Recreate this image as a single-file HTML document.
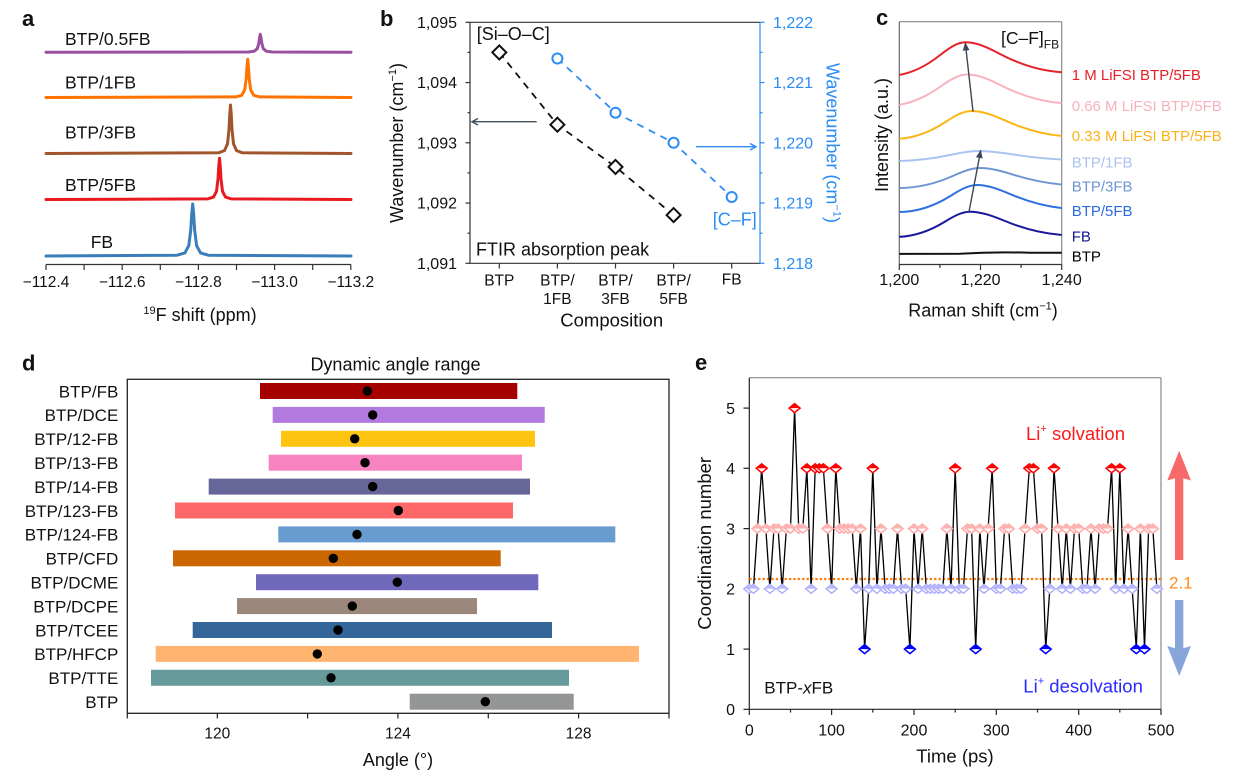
<!DOCTYPE html>
<html><head><meta charset="utf-8">
<style>
body{margin:0;background:#fff}
svg{display:block}
text{font-family:"Liberation Sans",Arial,sans-serif;fill:#111}
</style></head>
<body>
<svg width="1243" height="772" viewBox="0 0 1243 772" xmlns="http://www.w3.org/2000/svg">
<defs>
  <marker id="ah" viewBox="0 0 10 10" refX="9" refY="5" markerWidth="6" markerHeight="6" orient="auto"><path d="M0,1 L10,5 L0,9 Z" fill="#3b4656"/></marker>
  <clipPath id="cc"><rect x="899.3" y="21.7" width="162.4" height="242.8"/></clipPath>
  <g id="m5"><path d="M0,-4.5 L5.5,0 L0,4.5 L-5.5,0 Z" fill="#fff" stroke="#ff0000" stroke-width="1.5"/><path d="M-5.5,0 L0,-4.5 L5.5,0 Z" fill="#ff0000"/></g>
  <g id="m3"><path d="M0,-4.5 L5.5,0 L0,4.5 L-5.5,0 Z" fill="#fff" stroke="#ffaaaa" stroke-width="1.5"/><path d="M-5.5,0 L0,-4.5 L5.5,0 Z" fill="#ffb4b4"/></g>
  <g id="m2"><path d="M0,-4.5 L5.5,0 L0,4.5 L-5.5,0 Z" fill="#fff" stroke="#aeaefa" stroke-width="1.5"/><path d="M-5.5,0 L0,-4.5 L5.5,0 Z" fill="#b8b8fc"/></g>
  <g id="m1"><path d="M0,-4.5 L5.5,0 L0,4.5 L-5.5,0 Z" fill="#fff" stroke="#0000ff" stroke-width="1.5"/><path d="M-5.5,0 L0,-4.5 L5.5,0 Z" fill="#0000ff"/></g>
</defs>

<!-- ================= PANEL A ================= -->
<text x="22" y="26" font-size="22" font-weight="bold">a</text>
<g font-size="17.5">
<text x="65" y="45">BTP/0.5FB</text>
<text x="65" y="88.7">BTP/1FB</text>
<text x="65" y="138.7">BTP/3FB</text>
<text x="65" y="191">BTP/5FB</text>
<text x="90.7" y="248">FB</text>
</g>
<g fill="none" stroke-width="3" stroke-linejoin="round" stroke-linecap="round">
<polyline stroke="#9a4fa0" points="46,52.3 248.3,52.0 254.3,51.2 257.3,48.7 258.8,43.3 259.55,37.9 260.3,34.3 261.05,37.9 261.8,43.3 263.3,48.7 266.3,51.2 272.3,52.0 351,52.3"/>
<polyline stroke="#ff7300" points="46,97.5 235.7,96.9 241.7,95.3 244.7,89.9 246.2,78.4 246.95,66.9 247.7,59.3 248.45,66.9 249.2,78.4 250.7,89.9 253.7,95.3 259.7,96.9 351,97.5"/>
<polyline stroke="#a0552d" points="46,153.5 218.5,152.8 224.5,150.6 227.5,143.8 229,129.3 229.75,114.7 230.5,105 231.25,114.7 232,129.3 233.5,143.8 236.5,150.6 242.5,152.8 351,153.5"/>
<polyline stroke="#e8191f" points="46,199.5 207.5,198.9 213.5,197.1 216.5,191.3 218,178.9 218.75,166.5 219.5,158.3 220.25,166.5 221,178.9 222.5,191.3 225.5,197.1 231.5,198.9 351,199.5"/>
<polyline stroke="#3a7dbb" points="46,256 177.1,255.2 184.9,252.9 188.8,245.6 190.75,230 191.7,214.4 192.7,204 193.7,214.4 194.65,230 196.6,245.6 200.5,252.9 208.3,255.2 351,256"/>
</g>
<g stroke="#333" stroke-width="1.2">
<line x1="46" y1="264.5" x2="351" y2="264.5"/>
<line x1="46" y1="264.5" x2="46" y2="270"/><line x1="84.1" y1="264.5" x2="84.1" y2="270"/>
<line x1="122.2" y1="264.5" x2="122.2" y2="270"/><line x1="160.3" y1="264.5" x2="160.3" y2="270"/>
<line x1="198.4" y1="264.5" x2="198.4" y2="270"/><line x1="236.5" y1="264.5" x2="236.5" y2="270"/>
<line x1="274.6" y1="264.5" x2="274.6" y2="270"/><line x1="312.7" y1="264.5" x2="312.7" y2="270"/>
<line x1="350.8" y1="264.5" x2="350.8" y2="270"/>
</g>
<g font-size="15.5" text-anchor="middle">
<text x="46" y="287">−112.4</text>
<text x="122.2" y="287">−112.6</text>
<text x="198.4" y="287">−112.8</text>
<text x="274.6" y="287">−113.0</text>
<text x="350.8" y="287">−113.2</text>
</g>
<text x="200" y="321" font-size="18" text-anchor="middle"><tspan font-size="11" dy="-7">19</tspan><tspan dy="7">F shift (ppm)</tspan></text>

<!-- ================= PANEL B ================= -->
<text x="380" y="26" font-size="22" font-weight="bold">b</text>
<line x1="470" y1="22.3" x2="760" y2="22.3" stroke="#333" stroke-width="1.2"/>
<line x1="470" y1="263.3" x2="760" y2="263.3" stroke="#333" stroke-width="1.2"/>
<line x1="470" y1="22.3" x2="470" y2="263.3" stroke="#333" stroke-width="1.2"/>
<line x1="760" y1="22.3" x2="760" y2="263.3" stroke="#2b8cf5" stroke-width="1.2"/>
<g stroke="#333" stroke-width="1.2">
<line x1="465.5" y1="22.3" x2="470" y2="22.3"/><line x1="465.5" y1="82.55" x2="470" y2="82.55"/>
<line x1="465.5" y1="142.8" x2="470" y2="142.8"/><line x1="465.5" y1="203.05" x2="470" y2="203.05"/>
<line x1="465.5" y1="263.3" x2="470" y2="263.3"/>
<line x1="467.5" y1="52.4" x2="470" y2="52.4"/><line x1="467.5" y1="112.7" x2="470" y2="112.7"/>
<line x1="467.5" y1="172.9" x2="470" y2="172.9"/><line x1="467.5" y1="233.2" x2="470" y2="233.2"/>
<line x1="499.3" y1="263.3" x2="499.3" y2="268.5"/><line x1="557.4" y1="263.3" x2="557.4" y2="268.5"/>
<line x1="615.5" y1="263.3" x2="615.5" y2="268.5"/><line x1="673.6" y1="263.3" x2="673.6" y2="268.5"/>
<line x1="731.7" y1="263.3" x2="731.7" y2="268.5"/>
</g>
<g stroke="#2b8cf5" stroke-width="1.2">
<line x1="760" y1="22.3" x2="764.5" y2="22.3"/><line x1="760" y1="82.55" x2="764.5" y2="82.55"/>
<line x1="760" y1="142.8" x2="764.5" y2="142.8"/><line x1="760" y1="203.05" x2="764.5" y2="203.05"/>
<line x1="760" y1="263.3" x2="764.5" y2="263.3"/>
<line x1="760" y1="52.4" x2="762.5" y2="52.4"/><line x1="760" y1="112.7" x2="762.5" y2="112.7"/>
<line x1="760" y1="172.9" x2="762.5" y2="172.9"/><line x1="760" y1="233.2" x2="762.5" y2="233.2"/>
</g>
<g font-size="16" text-anchor="end">
<text x="457" y="27.8">1,095</text>
<text x="457" y="88">1,094</text>
<text x="457" y="148.3">1,093</text>
<text x="457" y="208.5">1,092</text>
<text x="457" y="268.8">1,091</text>
</g>
<g font-size="16" style="fill:#2b8cf5">
<text x="773" y="27.8" style="fill:#2b8cf5">1,222</text>
<text x="773" y="88" style="fill:#2b8cf5">1,221</text>
<text x="773" y="148.3" style="fill:#2b8cf5">1,220</text>
<text x="773" y="208.5" style="fill:#2b8cf5">1,219</text>
<text x="773" y="268.8" style="fill:#2b8cf5">1,218</text>
</g>
<text transform="translate(403,143) rotate(-90)" font-size="18" text-anchor="middle">Wavenumber (cm<tspan font-size="11" dy="-7">−1</tspan><tspan dy="7">)</tspan></text>
<text transform="translate(826.5,143) rotate(90)" font-size="18" text-anchor="middle" style="fill:#2b8cf5">Wavenumber (cm<tspan font-size="11" dy="-7" style="fill:#2b8cf5">−1</tspan><tspan dy="7" style="fill:#2b8cf5">)</tspan></text>
<!-- series -->
<polyline points="499.3,52.4 557.4,124.7 615.5,166.9 673.6,215.1" fill="none" stroke="#111" stroke-width="1.8" stroke-dasharray="7,6"/>
<polyline points="557.4,58.5 615.5,112.7 673.6,142.8 731.7,197" fill="none" stroke="#2b8cf5" stroke-width="1.8" stroke-dasharray="7,6"/>
<g fill="#fff" stroke="#111" stroke-width="2">
<path d="M499.3,45.4 L506.3,52.4 L499.3,59.4 L492.3,52.4 Z"/>
<path d="M557.4,117.7 L564.4,124.7 L557.4,131.7 L550.4,124.7 Z"/>
<path d="M615.5,159.9 L622.5,166.9 L615.5,173.9 L608.5,166.9 Z"/>
<path d="M673.6,208.1 L680.6,215.1 L673.6,222.1 L666.6,215.1 Z"/>
</g>
<g fill="#fff" stroke="#2b8cf5" stroke-width="2">
<circle cx="557.4" cy="58.5" r="5"/><circle cx="615.5" cy="112.7" r="5"/>
<circle cx="673.6" cy="142.8" r="5"/><circle cx="731.7" cy="197" r="5"/>
</g>
<g stroke="#44505e" stroke-width="1.4" fill="none">
<line x1="536.7" y1="121.7" x2="472" y2="121.7"/><polyline points="478,118.5 472,121.7 478,125"/>
</g>
<g stroke="#2b8cf5" stroke-width="1.4" fill="none">
<line x1="696" y1="146.7" x2="756" y2="146.7"/><polyline points="750,143.5 756,146.7 750,150"/>
</g>
<text x="476.7" y="40" font-size="18">[Si–O–C]</text>
<text x="712.7" y="225.7" font-size="18" style="fill:#2b8cf5">[C–F]</text>
<text x="476" y="255.7" font-size="18">FTIR absorption peak</text>
<g font-size="15.5" text-anchor="middle">
<text x="499.3" y="285.5">BTP</text>
<text x="557.4" y="285.5">BTP/</text><text x="557.4" y="304">1FB</text>
<text x="615.5" y="285.5">BTP/</text><text x="615.5" y="304">3FB</text>
<text x="673.6" y="285.5">BTP/</text><text x="673.6" y="304">5FB</text>
<text x="731.7" y="284.5">FB</text>
</g>
<text x="611.7" y="326.5" font-size="18.5" text-anchor="middle">Composition</text>

<!-- ================= PANEL C ================= -->
<text x="876" y="25" font-size="22" font-weight="bold">c</text>
<line x1="899.3" y1="21.7" x2="1061.7" y2="21.7" stroke="#888" stroke-width="1.2"/>
<line x1="1061.7" y1="21.7" x2="1061.7" y2="264.5" stroke="#888" stroke-width="1.2"/>
<line x1="899.3" y1="21.7" x2="899.3" y2="264.5" stroke="#666" stroke-width="1.2"/>
<line x1="899.3" y1="264.5" x2="1061.7" y2="264.5" stroke="#333" stroke-width="1.2"/>
<g stroke="#333" stroke-width="1.2">
<line x1="899.3" y1="264.5" x2="899.3" y2="270"/><line x1="939.9" y1="264.5" x2="939.9" y2="268"/>
<line x1="980.5" y1="264.5" x2="980.5" y2="270"/><line x1="1021.1" y1="264.5" x2="1021.1" y2="268"/>
<line x1="1061.7" y1="264.5" x2="1061.7" y2="270"/>
</g>
<g font-size="16" text-anchor="middle">
<text x="899.3" y="285">1,200</text>
<text x="980.5" y="285">1,220</text>
<text x="1061.7" y="285">1,240</text>
</g>
<text x="983" y="316.5" font-size="18" text-anchor="middle">Raman shift (cm<tspan font-size="11" dy="-7">−1</tspan><tspan dy="7">)</tspan></text>
<text transform="translate(888,135) rotate(-90)" font-size="18" text-anchor="middle">Intensity (a.u.)</text>
<g clip-path="url(#cc)" fill="none" stroke-width="2">
<path stroke="#e8202a" d="M870 76 L887.5 76 C904.8 76 922.2 69.2 939.5 55.5 C948.2 48.7 956.8 42.3 965.5 42.3 C977.2 42.3 988.8 48.1 1000.5 54.2 C1023.8 66.4 1047.2 72.5 1070.5 72.5 L1080 72.5"/>
<path stroke="#f9b3be" d="M870 106 L886 106 C904 106 922 99.6 940 86.9 C949 80.5 958 74.5 967 74.5 C978.7 74.5 990.3 80.0 1002 85.9 C1025.3 97.6 1048.7 103.5 1072 103.5 L1080 103.5"/>
<path stroke="#fbb616" d="M870 139 L893.5 139 C910.8 139 928.2 133.3 945.5 122 C954.2 116.3 962.8 111 971.5 111 C983.2 111 994.8 115.9 1006.5 121.1 C1029.8 131.5 1053.2 136.7 1076.5 136.7 L1085 136.7"/>
<path stroke="#a9c4ef" d="M870 161 L894.5 161 C913.2 161 931.8 159 950.5 154.9 C959.8 152.9 969.2 151 978.5 151 C990.2 151 1001.8 152.7 1013.5 154.5 C1036.8 158.2 1060.2 160 1083.5 160 L1090 160"/>
<path stroke="#6e96d5" d="M870 188 L899 188 C917 188 935 184 953 175.9 C962 171.8 971 168 980 168 C991.3 168 1002.7 171.3 1014 174.9 C1036.7 182 1059.3 185.5 1082 185.5 L1090 185.5"/>
<path stroke="#2f6fe0" d="M870 212 L899 212 C916.3 212 933.7 206.5 951 195.6 C959.7 190.2 968.3 185 977 185 C988.3 185 999.7 189.6 1011 194.4 C1033.7 204.2 1056.3 209 1079 209 L1090 209"/>
<path stroke="#18189a" d="M870 237 L895 237 C911.7 237 928.3 231.9 945 221.6 C953.3 216.5 961.7 211.7 970 211.7 C981.7 211.7 993.3 216.2 1005 221 C1028.3 230.7 1051.7 235.5 1075 235.5 L1085 235.5"/>
<path stroke="#111" d="M870 254 L960 253.8 Q995 251.5 1030 252.8 L1070 252.8"/>
</g>
<line x1="969" y1="211.7" x2="980.7" y2="150.5" stroke="#3b4656" stroke-width="1.4" marker-end="url(#ah)"/>
<line x1="973" y1="111.5" x2="965.3" y2="43" stroke="#3b4656" stroke-width="1.4" marker-end="url(#ah)"/>
<text x="1001" y="44" font-size="17.5">[C–F]<tspan font-size="12" dy="4.5">FB</tspan></text>
<g font-size="15">
<text x="1071.7" y="80" style="fill:#e8202a">1 M LiFSI BTP/5FB</text>
<text x="1071.7" y="111" style="fill:#f7b2bd">0.66 M LiFSI BTP/5FB</text>
<text x="1071.7" y="141" style="fill:#fbb117">0.33 M LiFSI BTP/5FB</text>
<text x="1071.7" y="167.7" style="fill:#a9c3ee">BTP/1FB</text>
<text x="1071.7" y="191.7" style="fill:#6d94d3">BTP/3FB</text>
<text x="1071.7" y="216" style="fill:#2c6ce0">BTP/5FB</text>
<text x="1071.7" y="241.7" style="fill:#141494">FB</text>
<text x="1071.7" y="261.7" style="fill:#000">BTP</text>
</g>

<!-- ================= PANEL D ================= -->
<text x="22" y="370.5" font-size="22" font-weight="bold">d</text>
<text x="395.5" y="370.5" font-size="18" text-anchor="middle">Dynamic angle range</text>
<g>
<rect x="260" y="383" width="257.3" height="16" fill="#a50000"/>
<rect x="272.7" y="406.9" width="272" height="16" fill="#b279de"/>
<rect x="281" y="430.8" width="254" height="16" fill="#fdc412"/>
<rect x="268.7" y="454.7" width="253.3" height="16" fill="#f783c0"/>
<rect x="208.7" y="478.6" width="321.3" height="16" fill="#676698"/>
<rect x="175" y="502.5" width="338" height="16" fill="#ff6868"/>
<rect x="278.3" y="526.4" width="337" height="16" fill="#699cce"/>
<rect x="173" y="550.3" width="327.7" height="16" fill="#cc6600"/>
<rect x="256" y="574.2" width="282.3" height="16" fill="#6f68bb"/>
<rect x="237" y="598.1" width="240" height="16" fill="#9b887b"/>
<rect x="192.7" y="622" width="359.3" height="16" fill="#346699"/>
<rect x="155.7" y="645.9" width="483.3" height="16" fill="#ffb570"/>
<rect x="151" y="669.8" width="418" height="16" fill="#679a9a"/>
<rect x="409.7" y="693.7" width="164" height="16" fill="#949696"/>
</g>
<g fill="#000">
<circle cx="367.3" cy="391" r="4.7"/><circle cx="372.7" cy="414.9" r="4.7"/>
<circle cx="354.7" cy="438.8" r="4.7"/><circle cx="365" cy="462.7" r="4.7"/>
<circle cx="372.7" cy="486.6" r="4.7"/><circle cx="398.3" cy="510.5" r="4.7"/>
<circle cx="357" cy="534.4" r="4.7"/><circle cx="333.3" cy="558.3" r="4.7"/>
<circle cx="397.3" cy="582.2" r="4.7"/><circle cx="352.3" cy="606.1" r="4.7"/>
<circle cx="338" cy="630" r="4.7"/><circle cx="317.3" cy="653.9" r="4.7"/>
<circle cx="331" cy="677.8" r="4.7"/><circle cx="485.3" cy="701.7" r="4.7"/>
</g>
<rect x="127.3" y="379.3" width="541.7" height="334" fill="none" stroke="#222" stroke-width="1.3"/>
<g stroke="#222" stroke-width="1.2">
<line x1="127.3" y1="713.3" x2="127.3" y2="718.5"/><line x1="217.3" y1="713.3" x2="217.3" y2="718.5"/>
<line x1="307.6" y1="713.3" x2="307.6" y2="718.5"/><line x1="397.9" y1="713.3" x2="397.9" y2="718.5"/>
<line x1="488.3" y1="713.3" x2="488.3" y2="718.5"/><line x1="578.6" y1="713.3" x2="578.6" y2="718.5"/>
<line x1="669" y1="713.3" x2="669" y2="718.5"/>
</g>
<g font-size="15.5" text-anchor="middle">
<text x="217.3" y="738.5">120</text>
<text x="397.9" y="738.5">124</text>
<text x="578.6" y="738.5">128</text>
</g>
<text x="398" y="766" font-size="18" text-anchor="middle">Angle (°)</text>
<g font-size="17" text-anchor="end">
<text x="118.3" y="397.3">BTP/FB</text>
<text x="118.3" y="421.2">BTP/DCE</text>
<text x="118.3" y="445.1">BTP/12-FB</text>
<text x="118.3" y="469">BTP/13-FB</text>
<text x="118.3" y="492.9">BTP/14-FB</text>
<text x="118.3" y="516.8">BTP/123-FB</text>
<text x="118.3" y="540.7">BTP/124-FB</text>
<text x="118.3" y="564.6">BTP/CFD</text>
<text x="118.3" y="588.5">BTP/DCME</text>
<text x="118.3" y="612.4">BTP/DCPE</text>
<text x="118.3" y="636.3">BTP/TCEE</text>
<text x="118.3" y="660.2">BTP/HFCP</text>
<text x="118.3" y="684.1">BTP/TTE</text>
<text x="118.3" y="708">BTP</text>
</g>

<!-- ================= PANEL E ================= -->
<text x="695" y="370" font-size="22" font-weight="bold">e</text>
<line x1="749.3" y1="377.7" x2="1161" y2="377.7" stroke="#888" stroke-width="1.2"/>
<line x1="1161" y1="377.7" x2="1161" y2="709.3" stroke="#888" stroke-width="1.2"/>
<line x1="749.3" y1="377.7" x2="749.3" y2="709.3" stroke="#222" stroke-width="1.2"/>
<line x1="749.3" y1="709.3" x2="1161" y2="709.3" stroke="#222" stroke-width="1.2"/>
<g stroke="#222" stroke-width="1.2">
<line x1="743.5" y1="709.3" x2="749.3" y2="709.3"/><line x1="743.5" y1="649.1" x2="749.3" y2="649.1"/>
<line x1="743.5" y1="588.8" x2="749.3" y2="588.8"/><line x1="743.5" y1="528.6" x2="749.3" y2="528.6"/>
<line x1="743.5" y1="468.3" x2="749.3" y2="468.3"/><line x1="743.5" y1="408.1" x2="749.3" y2="408.1"/>
<line x1="749.3" y1="709.3" x2="749.3" y2="715"/><line x1="831.6" y1="709.3" x2="831.6" y2="715"/>
<line x1="914" y1="709.3" x2="914" y2="715"/><line x1="996.3" y1="709.3" x2="996.3" y2="715"/>
<line x1="1078.7" y1="709.3" x2="1078.7" y2="715"/><line x1="1161" y1="709.3" x2="1161" y2="715"/>
<line x1="790.5" y1="709.3" x2="790.5" y2="712.5"/><line x1="872.8" y1="709.3" x2="872.8" y2="712.5"/>
<line x1="955.2" y1="709.3" x2="955.2" y2="712.5"/><line x1="1037.5" y1="709.3" x2="1037.5" y2="712.5"/>
<line x1="1119.8" y1="709.3" x2="1119.8" y2="712.5"/>
</g>
<g font-size="16" text-anchor="end">
<text x="735" y="715">0</text><text x="735" y="654.8">1</text><text x="735" y="594.5">2</text>
<text x="735" y="534.3">3</text><text x="735" y="474">4</text><text x="735" y="413.8">5</text>
</g>
<g font-size="16" text-anchor="middle">
<text x="749.3" y="735.5">0</text><text x="831.6" y="735.5">100</text><text x="914" y="735.5">200</text>
<text x="996.3" y="735.5">300</text><text x="1078.7" y="735.5">400</text><text x="1161" y="735.5">500</text>
</g>
<text x="955" y="762.5" font-size="18.5" text-anchor="middle">Time (ps)</text>
<text transform="translate(711,543.3) rotate(-90)" font-size="18.5" text-anchor="middle">Coordination number</text>
<line x1="749.3" y1="579" x2="1161" y2="579" stroke="#ff7f0e" stroke-width="2.2" stroke-dasharray="2.4,2"/>
<polyline fill="none" stroke="#000" stroke-width="1.3" stroke-linejoin="round" points="749.3,588.8 753.4,588.8 757.5,528.6 761.7,468.3 765.8,528.6 769.9,588.8 774.0,528.6 778.1,528.6 782.2,588.8 786.4,528.6 790.5,528.6 794.6,408.1 798.7,528.6 802.8,528.6 806.9,468.3 811.1,588.8 815.2,468.3 819.3,468.3 823.4,468.3 827.5,528.6 831.6,588.8 835.8,468.3 839.9,528.6 844.0,528.6 848.1,528.6 852.2,528.6 856.3,588.8 860.5,528.6 864.6,649.1 868.7,588.8 872.8,468.3 876.9,588.8 881.0,528.6 885.2,588.8 889.3,588.8 893.4,588.8 897.5,528.6 901.6,588.8 905.7,588.8 909.9,649.1 914.0,528.6 918.1,588.8 922.2,528.6 926.3,588.8 930.4,588.8 934.6,588.8 938.7,588.8 942.8,588.8 946.9,528.6 951.0,588.8 955.2,468.3 959.3,588.8 963.4,588.8 967.5,528.6 971.6,528.6 975.7,649.1 979.8,528.6 984.0,588.8 988.1,528.6 992.2,468.3 996.3,588.8 1000.4,588.8 1004.6,528.6 1008.7,528.6 1012.8,588.8 1016.9,588.8 1021.0,588.8 1025.1,528.6 1029.3,468.3 1033.4,468.3 1037.5,528.6 1041.6,528.6 1045.7,649.1 1049.8,588.8 1054.0,468.3 1058.1,528.6 1062.2,588.8 1066.3,528.6 1070.4,588.8 1074.5,528.6 1078.7,528.6 1082.8,588.8 1086.9,588.8 1091.0,528.6 1095.1,588.8 1099.2,528.6 1103.4,528.6 1107.5,528.6 1111.6,468.3 1115.7,588.8 1119.8,468.3 1123.9,588.8 1128.1,528.6 1132.2,588.8 1136.3,649.1 1140.4,528.6 1144.5,649.1 1148.6,528.6 1152.8,528.6 1156.9,588.8"/>
<g>
<use href="#m2" x="749.3" y="588.8"/><use href="#m2" x="753.4" y="588.8"/><use href="#m3" x="757.5" y="528.6"/><use href="#m5" x="761.7" y="468.3"/>
<use href="#m3" x="765.8" y="528.6"/><use href="#m2" x="769.9" y="588.8"/><use href="#m3" x="774.0" y="528.6"/><use href="#m3" x="778.1" y="528.6"/>
<use href="#m2" x="782.2" y="588.8"/><use href="#m3" x="786.4" y="528.6"/><use href="#m3" x="790.5" y="528.6"/><use href="#m5" x="794.6" y="408.1"/>
<use href="#m3" x="798.7" y="528.6"/><use href="#m3" x="802.8" y="528.6"/><use href="#m5" x="806.9" y="468.3"/><use href="#m2" x="811.1" y="588.8"/>
<use href="#m5" x="815.2" y="468.3"/><use href="#m5" x="819.3" y="468.3"/><use href="#m5" x="823.4" y="468.3"/><use href="#m3" x="827.5" y="528.6"/>
<use href="#m2" x="831.6" y="588.8"/><use href="#m5" x="835.8" y="468.3"/><use href="#m3" x="839.9" y="528.6"/><use href="#m3" x="844.0" y="528.6"/>
<use href="#m3" x="848.1" y="528.6"/><use href="#m3" x="852.2" y="528.6"/><use href="#m2" x="856.3" y="588.8"/><use href="#m3" x="860.5" y="528.6"/>
<use href="#m1" x="864.6" y="649.1"/><use href="#m2" x="868.7" y="588.8"/><use href="#m5" x="872.8" y="468.3"/><use href="#m2" x="876.9" y="588.8"/>
<use href="#m3" x="881.0" y="528.6"/><use href="#m2" x="885.2" y="588.8"/><use href="#m2" x="889.3" y="588.8"/><use href="#m2" x="893.4" y="588.8"/>
<use href="#m3" x="897.5" y="528.6"/><use href="#m2" x="901.6" y="588.8"/><use href="#m2" x="905.7" y="588.8"/><use href="#m1" x="909.9" y="649.1"/>
<use href="#m3" x="914.0" y="528.6"/><use href="#m2" x="918.1" y="588.8"/><use href="#m3" x="922.2" y="528.6"/><use href="#m2" x="926.3" y="588.8"/>
<use href="#m2" x="930.4" y="588.8"/><use href="#m2" x="934.6" y="588.8"/><use href="#m2" x="938.7" y="588.8"/><use href="#m2" x="942.8" y="588.8"/>
<use href="#m3" x="946.9" y="528.6"/><use href="#m2" x="951.0" y="588.8"/><use href="#m5" x="955.2" y="468.3"/><use href="#m2" x="959.3" y="588.8"/>
<use href="#m2" x="963.4" y="588.8"/><use href="#m3" x="967.5" y="528.6"/><use href="#m3" x="971.6" y="528.6"/><use href="#m1" x="975.7" y="649.1"/>
<use href="#m3" x="979.8" y="528.6"/><use href="#m2" x="984.0" y="588.8"/><use href="#m3" x="988.1" y="528.6"/><use href="#m5" x="992.2" y="468.3"/>
<use href="#m2" x="996.3" y="588.8"/><use href="#m2" x="1000.4" y="588.8"/><use href="#m3" x="1004.6" y="528.6"/><use href="#m3" x="1008.7" y="528.6"/>
<use href="#m2" x="1012.8" y="588.8"/><use href="#m2" x="1016.9" y="588.8"/><use href="#m2" x="1021.0" y="588.8"/><use href="#m3" x="1025.1" y="528.6"/>
<use href="#m5" x="1029.3" y="468.3"/><use href="#m5" x="1033.4" y="468.3"/><use href="#m3" x="1037.5" y="528.6"/><use href="#m3" x="1041.6" y="528.6"/>
<use href="#m1" x="1045.7" y="649.1"/><use href="#m2" x="1049.8" y="588.8"/><use href="#m5" x="1054.0" y="468.3"/><use href="#m3" x="1058.1" y="528.6"/>
<use href="#m2" x="1062.2" y="588.8"/><use href="#m3" x="1066.3" y="528.6"/><use href="#m2" x="1070.4" y="588.8"/><use href="#m3" x="1074.5" y="528.6"/>
<use href="#m3" x="1078.7" y="528.6"/><use href="#m2" x="1082.8" y="588.8"/><use href="#m2" x="1086.9" y="588.8"/><use href="#m3" x="1091.0" y="528.6"/>
<use href="#m2" x="1095.1" y="588.8"/><use href="#m3" x="1099.2" y="528.6"/><use href="#m3" x="1103.4" y="528.6"/><use href="#m3" x="1107.5" y="528.6"/>
<use href="#m5" x="1111.6" y="468.3"/><use href="#m2" x="1115.7" y="588.8"/><use href="#m5" x="1119.8" y="468.3"/><use href="#m2" x="1123.9" y="588.8"/>
<use href="#m3" x="1128.1" y="528.6"/><use href="#m2" x="1132.2" y="588.8"/><use href="#m1" x="1136.3" y="649.1"/><use href="#m3" x="1140.4" y="528.6"/>
<use href="#m1" x="1144.5" y="649.1"/><use href="#m3" x="1148.6" y="528.6"/><use href="#m3" x="1152.8" y="528.6"/><use href="#m2" x="1156.9" y="588.8"/>
</g>
<text x="1169" y="588.3" font-size="17" style="fill:#ff8c1a">2.1</text>
<polygon points="1175,560 1175,478.3 1167.3,480.5 1179.2,450.7 1191,480.5 1183.3,478.3 1183.3,560" fill="#f86a6a"/>
<polygon points="1175,600 1183.3,600 1183.3,648.3 1191,646 1179.2,676 1167.3,646 1175,648.3" fill="#88a5da"/>
<text x="1026" y="440" font-size="18.5" style="fill:#ff1a1a">Li<tspan font-size="11" dy="-8" style="fill:#ff1a1a">+</tspan><tspan dy="8" style="fill:#ff1a1a"> solvation</tspan></text>
<text x="1023.3" y="692.7" font-size="18.5" style="fill:#2a2aff">Li<tspan font-size="11" dy="-8" style="fill:#2a2aff">+</tspan><tspan dy="8" style="fill:#2a2aff"> desolvation</tspan></text>
<text x="764.3" y="693.3" font-size="17">BTP-<tspan font-style="italic">x</tspan>FB</text>
</svg>
</body></html>
